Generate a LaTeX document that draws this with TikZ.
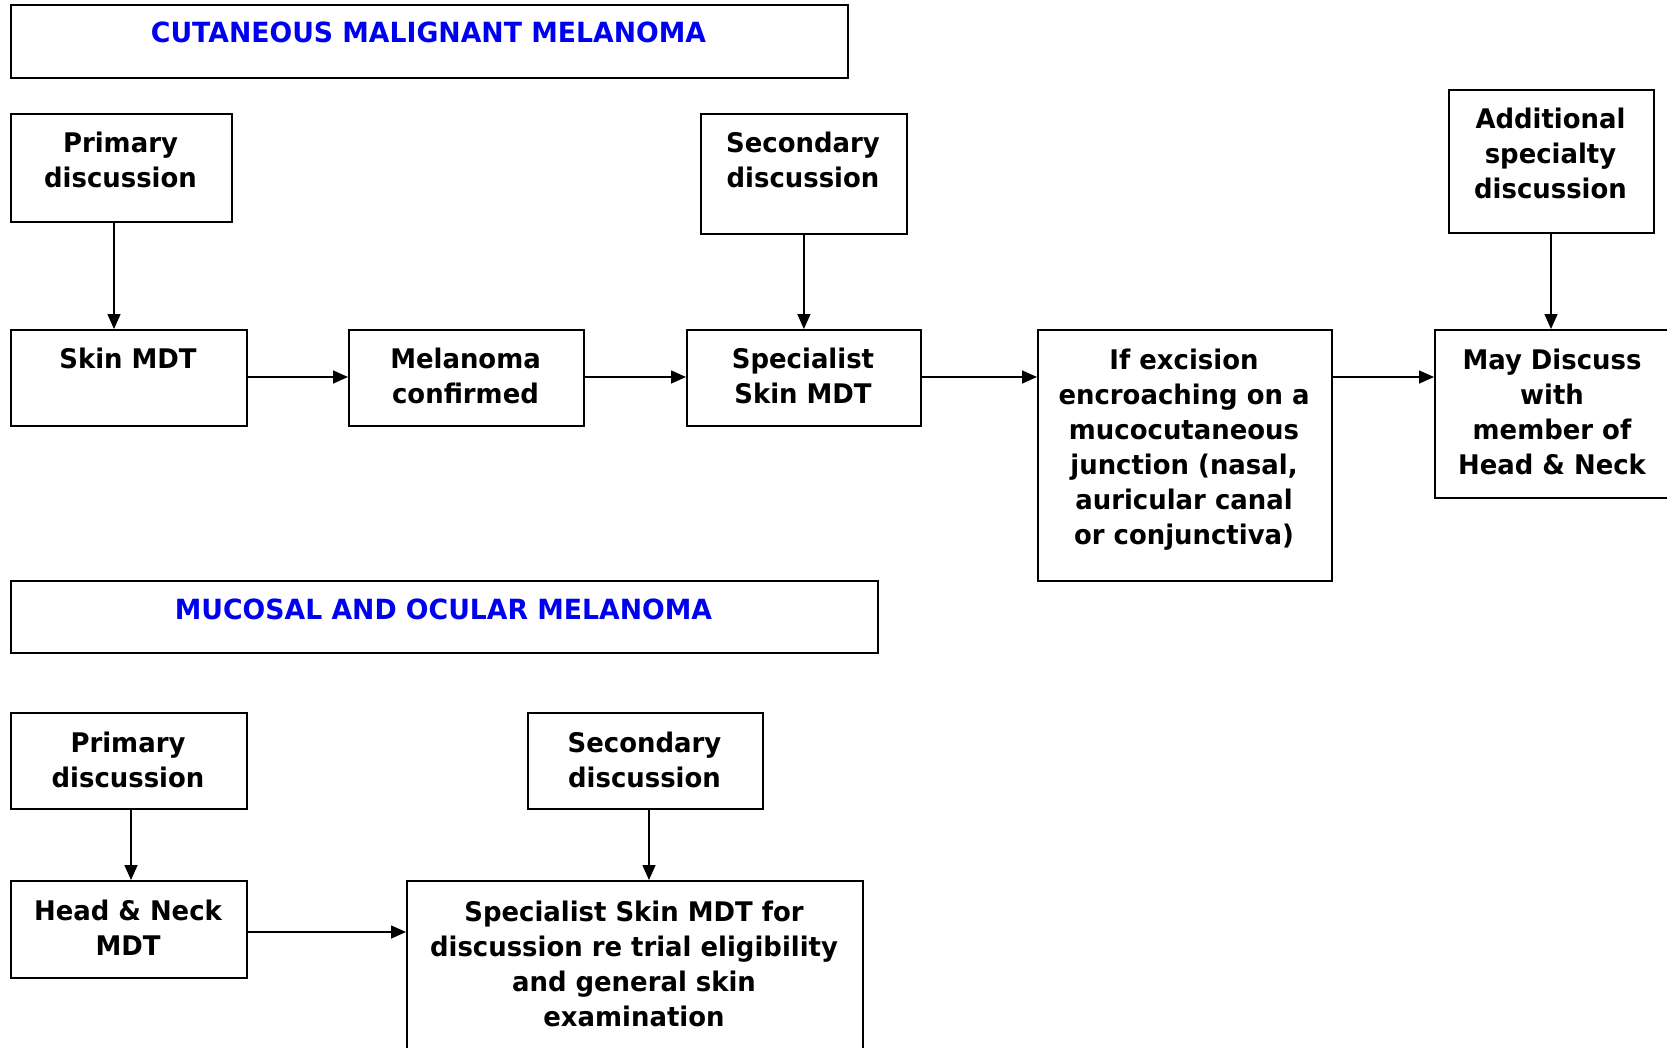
\documentclass[tikz,border=0pt]{standalone}
\usepackage{fontspec}
\setmainfont{DejaVu Sans}[FakeStretch=0.96]
\usetikzlibrary{arrows.meta,positioning,calc}
\tikzset{
  boxx/.style={draw=black, line width=1.8pt, inner sep=0pt, anchor=north west},
  txt/.style={anchor=north, inner sep=0pt, align=center, font=\fontsize{27}{35}\selectfont\bfseries},
  ttl/.style={txt, font=\fontsize{27.8}{35}\selectfont\bfseries, text={rgb,255:red,0;green,0;blue,240}},
  arr/.style={line width=1.6pt, -{Triangle[length=15pt,width=13pt]}}
}
\begin{document}
\begin{tikzpicture}[x=1pt,y=-1pt]
\useasboundingbox (0,0) rectangle (1667,1047);
\clip (0,0) rectangle (1667,1047);
\fill[white] (0,0) rectangle (1667,1047);
\node[boxx, minimum width=837pt, minimum height=73pt] (t1) at (10,4) {};
\node[ttl] (t1t) at (428.5,22) {CUTANEOUS MALIGNANT MELANOMA};

\node[boxx, minimum width=221pt, minimum height=108pt] (p1) at (10,113) {};
\node[txt] (p1t) at (120.5,131.5) {Primary\\discussion};

\node[boxx, minimum width=236pt, minimum height=96pt] (s1) at (10,329) {};
\node[txt] (s1t) at (128,347.5) {Skin MDT};

\node[boxx, minimum width=235pt, minimum height=96pt] (m1) at (348,329) {};
\node[txt] (m1t) at (465.5,347.5) {Melanoma\\confirmed};

\node[boxx, minimum width=234pt, minimum height=96pt] (sp1) at (686,329) {};
\node[txt] (sp1t) at (803,347.5) {Specialist\\Skin MDT};

\node[boxx, minimum width=206pt, minimum height=120pt] (sec1) at (700,113) {};
\node[txt] (sec1t) at (803,131.5) {Secondary\\discussion};

\node[boxx, minimum width=205pt, minimum height=143pt] (ad) at (1448,89) {};
\node[txt] (adt) at (1550.5,107.5) {Additional\\specialty\\discussion};

\node[boxx, minimum width=294pt, minimum height=251pt] (ex) at (1037,329) {};
\node[txt] (ext) at (1184,348.5) {If excision\\encroaching on a\\mucocutaneous\\junction (nasal,\\auricular canal\\or conjunctiva)};

\node[boxx, minimum width=236pt, minimum height=168pt] (may) at (1434,329) {};
\node[txt] (mayt) at (1552,348.5) {May Discuss\\with\\member of\\Head \& Neck};

\node[boxx, minimum width=867pt, minimum height=72pt] (t2) at (10,580) {};
\node[ttl] (t2t) at (443.5,599) {MUCOSAL AND OCULAR MELANOMA};

\node[boxx, minimum width=236pt, minimum height=96pt] (p2) at (10,712) {};
\node[txt] (p2t) at (128,731.5) {Primary\\discussion};

\node[boxx, minimum width=236pt, minimum height=97pt] (hn) at (10,880) {};
\node[txt] (hnt) at (128,899.5) {Head \& Neck\\MDT};

\node[boxx, minimum width=235pt, minimum height=96pt] (sec2) at (527,712) {};
\node[txt] (sec2t) at (644.5,731.5) {Secondary\\discussion};

\node[boxx, minimum width=456pt, minimum height=190pt] (spec2) at (406,880) {};
\node[txt] (spec2t) at (634,901) {Specialist Skin MDT for\\discussion re trial eligibility\\and general skin\\examination};

% connector positions
\coordinate (xa) at (114,0);
\coordinate (xb) at (1551,0);
\coordinate (xc) at (131,0);
\coordinate (xd) at (649,0);
\coordinate (ya) at (0,377);
\coordinate (yb) at (0,932);

\draw[arr] (p1.south -| xa) -- (s1.north -| xa);
\draw[arr] (sec1.south) -- (sp1.north);
\draw[arr] (ad.south -| xb) -- (may.north -| xb);
\draw[arr] (s1.east |- ya) -- (m1.west |- ya);
\draw[arr] (m1.east |- ya) -- (sp1.west |- ya);
\draw[arr] (sp1.east |- ya) -- (ex.west |- ya);
\draw[arr] (ex.east |- ya) -- (may.west |- ya);
\draw[arr] (p2.south -| xc) -- (hn.north -| xc);
\draw[arr] (sec2.south -| xd) -- (spec2.north -| xd);
\draw[arr] (hn.east |- yb) -- (spec2.west |- yb);
\end{tikzpicture}
\end{document}
